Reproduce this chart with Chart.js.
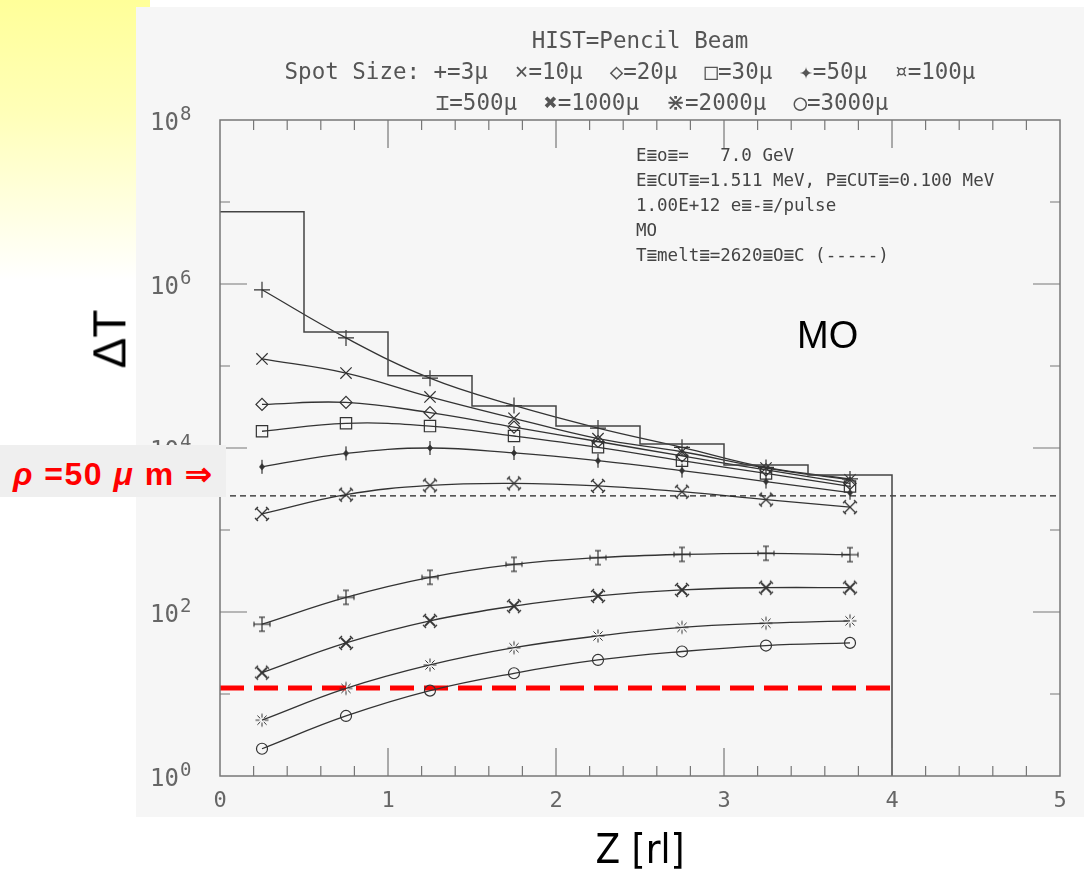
<!DOCTYPE html>
<html lang="en">
<head>
  <meta charset="UTF-8">
  <title>HIST=Pencil Beam - MO</title>
  <style>
    body {
      margin: 0;
      width: 1084px;
      height: 870px;
      background: #fff;
      position: relative;
      overflow: hidden;
      font-family: 'Liberation Sans', Arial, sans-serif;
    }
    .glow {
      position: absolute;
      left: 0; top: 0;
      width: 150px; height: 280px;
      background: linear-gradient(to bottom, #ffff99 0%, #ffffb8 40%, #ffffff 100%);
    }
    .panel {
      position: absolute;
      left: 136px; top: 7px;
      width: 948px; height: 810px;
      background: #f6f6f6;
    }
    canvas { position: absolute; left: 0; top: 0; }
    .plotText {
      position: absolute;
      font-family: 'DejaVu Sans Mono', monospace;
      color: #555;
      white-space: pre;
    }
    .title { font-size: 22.5px; text-align: center; }
    .info { left: 636px; top: 143px; font-size: 17.5px; line-height: 25px; color: #444; }
    .mo { position: absolute; left: 797px; top: 314px; font-size: 38px; color: #000; }
    .dt {
      position: absolute; left: 80px; top: 312px; font-size: 46px; color: #000;
      transform: rotate(-90deg); transform-origin: center;
    }
    .zlab {
      position: absolute; left: 560px; top: 826px; width: 160px; text-align: center;
      font-family: 'Liberation Sans Narrow', 'DejaVu Sans Condensed', sans-serif;
      font-size: 40px; color: #000;
    }
    .rho {
      position: absolute; left: 0; top: 445px; width: 226px; height: 52px;
      background: #efefef;
      color: #f00; font-weight: bold; font-size: 32px; line-height: 32px;
      letter-spacing: 1.5px;
      padding: 13px 0 0 13px; box-sizing: border-box; white-space: pre;
    }
  </style>
</head>
<body>
  <div class="glow"></div>
  <div class="panel"></div>
  <canvas id="chart" width="1084" height="870"></canvas>

  <div class="plotText title" style="left:440px; width:400px; top:27px;">HIST=Pencil Beam</div>
  <div class="plotText title" style="left:230px; width:800px; top:58px;">Spot Size: +=3μ  ×=10μ  ◇=20μ  □=30μ  ✦=50μ  ¤=100μ</div>
  <div class="plotText title" style="left:362px; width:600px; top:89px;">⌶=500μ  ✖=1000μ  ⋇=2000μ  ○=3000μ</div>
  <div class="plotText info">E≣o≣=   7.0 GeV
E≣CUT≣=1.511 MeV, P≣CUT≣=0.100 MeV
1.00E+12 e≣-≣/pulse
MO
T≣melt≣=2620≣O≣C (-----)</div>
  <div class="mo">MO</div>
  <div class="dt">ΔT</div>
  <div class="zlab">Z [rl]</div>
  <div class="rho"><i>ρ</i> =50 <i>μ</i> m ⇒</div>

  <script src="https://cdn.jsdelivr.net/npm/chart.js@4.4.1/dist/chart.umd.min.js"></script>
  <script>
    // shower depth sample points (radiation lengths)
    const zPts = [0.25, 0.75, 1.25, 1.75, 2.25, 2.75, 3.25, 3.75];

    // temperature rise per spot size
    const dT3    = [8.5e5, 2.2e5, 7.1e4, 3.3e4, 1.75e4, 1.02e4, 5.8e3, 4.2e3];
    const dT10   = [1.22e5, 8.2e4, 4.2e4, 2.3e4, 1.3e4, 9.0e3, 5.7e3, 4.1e3];
    const dT20   = [3.4e4, 3.6e4, 2.7e4, 1.8e4, 1.2e4, 8.0e3, 5.4e3, 3.7e3];
    const dT30   = [1.6e4, 2.0e4, 1.85e4, 1.4e4, 1.02e4, 7.0e3, 4.9e3, 3.4e3];
    const dT50   = [5.9e3, 8.6e3, 1.0e4, 8.7e3, 7.0e3, 5.3e3, 3.9e3, 2.85e3];
    const dT100  = [1.57e3, 2.7e3, 3.5e3, 3.7e3, 3.45e3, 2.93e3, 2.35e3, 1.9e3];
    const dT500  = [71, 151, 265, 381, 460, 504, 520, 500];
    const dT1000 = [18.2, 42, 78, 118, 157, 186, 198, 198];
    const dT2000 = [4.8, 11.7, 22.6, 36.7, 51, 65, 73, 78];
    const dT3000 = [2.15, 5.4, 11, 17.9, 26, 33, 39, 42];

    // pencil beam histogram (bin left edges, last one closes the box)
    const histEdges = [0, 0.5, 1, 1.5, 2, 2.5, 3, 3.5, 4];
    const histVals  = [7.6e6, 2.6e5, 7.6e4, 3.25e4, 1.85e4, 1.12e4, 6.2e3, 4.7e3, 1];

    const meltLevel = 2600;   // T melt, black dashed
    const meltRange = [0, 5];
    const redLevel  = 11.8;   // red dashed
    const redRange  = [0, 4.03];

    const yLabelExps = [0, 2, 4, 6, 8];
    const xLabels    = [0, 1, 2, 3, 4, 5];

    const ink = '#333';

    function marker(size, draw) {
      const c = document.createElement('canvas');
      c.width = c.height = size;
      const g = c.getContext('2d');
      g.strokeStyle = ink;
      g.fillStyle = ink;
      g.lineWidth = 1.2;
      draw(g, size / 2);
      return c;
    }
    function seg(g, x1, y1, x2, y2) {
      g.beginPath(); g.moveTo(x1, y1); g.lineTo(x2, y2); g.stroke();
    }

    const m50 = marker(16, (g, c) => {
      g.beginPath();
      g.moveTo(c, c - 3.5); g.lineTo(c + 3, c); g.lineTo(c, c + 3.5); g.lineTo(c - 3, c);
      g.closePath(); g.fill();
      seg(g, c, c - 7, c, c + 7);
    });
    const m100 = marker(18, (g, c) => {
      seg(g, c - 6, c - 6, c + 6, c + 6);
      seg(g, c + 6, c - 6, c - 6, c + 6);
      seg(g, c - 7, c - 4, c - 4, c - 7);
      seg(g, c + 7, c - 4, c + 4, c - 7);
      seg(g, c - 7, c + 4, c - 4, c + 7);
      seg(g, c + 7, c + 4, c + 4, c + 7);
    });
    const m500 = marker(20, (g, c) => {
      seg(g, c, c - 7, c, c + 7);
      seg(g, c - 3, c - 7, c + 3, c - 7);
      seg(g, c - 3, c + 7, c + 3, c + 7);
      seg(g, c - 8, c, c + 8, c);
      seg(g, c - 8, c - 2.5, c - 8, c + 2.5);
      seg(g, c + 8, c - 2.5, c + 8, c + 2.5);
    });
    const m1000 = marker(18, (g, c) => {
      g.lineWidth = 1.8;
      seg(g, c - 5, c - 5, c + 5, c + 5);
      seg(g, c + 5, c - 5, c - 5, c + 5);
      g.lineWidth = 1.2;
      seg(g, c - 7, c - 4, c - 4, c - 7);
      seg(g, c + 7, c - 4, c + 4, c - 7);
      seg(g, c - 7, c + 4, c - 4, c + 7);
      seg(g, c + 7, c + 4, c + 4, c + 7);
    });
    const m2000 = marker(18, (g, c) => {
      g.lineWidth = 1;
      for (let k = 0; k < 8; k++) {
        const a = k * Math.PI / 4;
        seg(g, c + Math.cos(a) * 2.5, c + Math.sin(a) * 2.5, c + Math.cos(a) * 6.5, c + Math.sin(a) * 6.5);
      }
    });

    function curve(vals, style, radius) {
      return {
        data: zPts.map((z, i) => ({ x: z, y: vals[i] })),
        borderColor: ink,
        borderWidth: 1.3,
        tension: 0.4,
        pointStyle: style,
        pointRadius: radius,
        pointBorderColor: ink,
        pointBackgroundColor: 'rgba(0,0,0,0)',
        pointBorderWidth: 1.2
      };
    }
    function hline(level, range, color, width, dash) {
      return {
        data: range.map(x => ({ x, y: level })),
        borderColor: color,
        borderWidth: width,
        borderDash: dash,
        pointRadius: 0
      };
    }

    const axisFrame = {
      id: 'axisFrame',
      afterDraw(chart) {
        const { ctx, chartArea: a, scales: { x, y } } = chart;
        ctx.save();
        ctx.strokeStyle = '#777';
        ctx.lineWidth = 1.5;
        ctx.strokeRect(a.left, a.top, a.right - a.left, a.bottom - a.top);
        ctx.lineWidth = 1.2;
        for (let e = 1; e < 8; e++) {
          const py = y.getPixelForValue(Math.pow(10, e));
          const len = e % 2 === 0 ? 27 : 10;
          ctx.beginPath();
          ctx.moveTo(a.left, py); ctx.lineTo(a.left + len, py);
          ctx.moveTo(a.right, py); ctx.lineTo(a.right - len, py);
          ctx.stroke();
        }
        for (let i = 1; i < 25; i++) {
          const px = x.getPixelForValue(i * 0.2);
          const len = i % 5 === 0 ? 28 : 10;
          ctx.beginPath();
          ctx.moveTo(px, a.bottom); ctx.lineTo(px, a.bottom - len);
          ctx.moveTo(px, a.top); ctx.lineTo(px, a.top + len);
          ctx.stroke();
        }
        ctx.fillStyle = '#666';
        ctx.textBaseline = 'alphabetic';
        ctx.textAlign = 'left';
        yLabelExps.forEach(e => {
          const py = y.getPixelForValue(Math.pow(10, e));
          ctx.font = '24px "DejaVu Sans Mono", monospace';
          ctx.fillText('10', a.left - 70, py + 10);
          ctx.font = '19px "DejaVu Sans Mono", monospace';
          ctx.fillText(String(e), a.left - 40, py);
        });
        ctx.font = '22px "DejaVu Sans Mono", monospace';
        ctx.textAlign = 'center';
        ctx.textBaseline = 'middle';
        xLabels.forEach(v => {
          ctx.fillText(String(v), x.getPixelForValue(v), a.bottom + 25);
        });
        ctx.restore();
      }
    };

    new Chart(document.getElementById('chart'), {
      type: 'line',
      data: {
        datasets: [
          {
            data: histEdges.map((x, i) => ({ x, y: histVals[i] })),
            borderColor: '#444',
            borderWidth: 1.5,
            stepped: true,
            pointRadius: 0
          },
          hline(meltLevel, meltRange, '#222', 1.2, [6, 4]),
          curve(dT3, 'cross', 8),
          curve(dT10, 'crossRot', 8),
          curve(dT20, 'rectRot', 6),
          curve(dT30, 'rect', 8),
          curve(dT50, m50, 8),
          curve(dT100, m100, 9),
          curve(dT500, m500, 10),
          curve(dT1000, m1000, 9),
          curve(dT2000, m2000, 9),
          curve(dT3000, 'circle', 5.5),
          hline(redLevel, redRange, '#ff0000', 5, [24, 10])
        ]
      },
      options: {
        responsive: false,
        animation: false,
        layout: { padding: { left: 220, right: 24, top: 120, bottom: 94 } },
        plugins: { legend: { display: false }, tooltip: { enabled: false } },
        scales: {
          x: { type: 'linear', min: 0, max: 5, display: false },
          y: { type: 'logarithmic', min: 1, max: 1e8, display: false }
        }
      },
      plugins: [axisFrame]
    });
  </script>
</body>
</html>
